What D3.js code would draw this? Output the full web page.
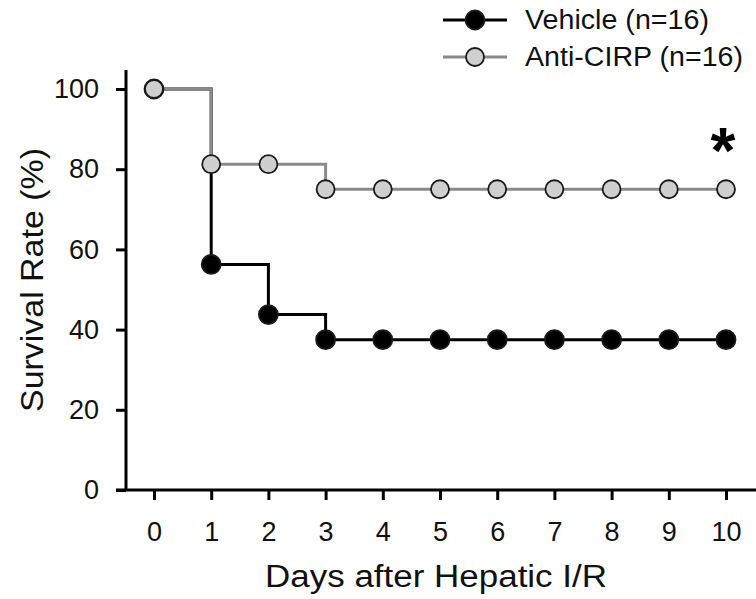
<!DOCTYPE html>
<html>
<head>
<meta charset="utf-8">
<script src="https://cdn.jsdelivr.net/npm/d3@7"></script>
<style>
  body { margin: 0; background: #fff; }
  text { font-family: "Liberation Sans", Arial, sans-serif; }
</style>
</head>
<body>
<svg id="chart" width="756" height="599"></svg>
<script>
// survival data (percent alive each day)
const days = [0, 1, 2, 3, 4, 5, 6, 7, 8, 9, 10];
const vehicle = [100, 56.25, 43.75, 37.5, 37.5, 37.5, 37.5, 37.5, 37.5, 37.5, 37.5];
const antiCirp = [100, 81.25, 81.25, 75, 75, 75, 75, 75, 75, 75, 75];
const yTicks = [0, 20, 40, 60, 80, 100];
const seriesNames = ['Vehicle (n=16)', 'Anti-CIRP (n=16)'];

const svg = d3.select('#chart');

const x = d3.scaleLinear().domain([0, 10]).range([154, 726]);
const y = d3.scaleLinear().domain([0, 100]).range([490, 89]);

const series = [
  { name: seriesNames[0], values: vehicle, line: '#000', fill: '#000', r: 9.5, w: 184 },
  { name: seriesNames[1], values: antiCirp, line: '#8a8a8a', fill: '#cfcfcf', r: 9, w: 218 }
];

// axes
const yAxis = d3.axisLeft(y).tickValues(yTicks).tickSize(10).tickPadding(17);
const xAxis = d3.axisBottom(x).tickValues(days).tickSize(10).tickPadding(22);

const gy = svg.append('g').attr('transform', 'translate(126,0)').call(yAxis);
gy.select('.domain').attr('d', `M0,${y(0)}V70`);
const gx = svg.append('g').attr('transform', 'translate(0,490)').call(xAxis);
gx.select('.domain').attr('d', 'M116,0H756');

svg.selectAll('.domain, .tick line').attr('stroke', '#000').attr('stroke-width', 3);
svg.selectAll('.tick text').attr('font-size', 27).attr('fill', '#111');

// axis titles
svg.append('text')
  .attr('x', 436).attr('y', 587)
  .attr('text-anchor', 'middle')
  .attr('font-size', 31)
  .attr('textLength', 342).attr('lengthAdjust', 'spacingAndGlyphs')
  .attr('fill', '#111')
  .text('Days after Hepatic I/R');

svg.append('text')
  .attr('transform', 'translate(43,280) rotate(-90)')
  .attr('text-anchor', 'middle')
  .attr('font-size', 31)
  .attr('textLength', 264).attr('lengthAdjust', 'spacingAndGlyphs')
  .attr('fill', '#111')
  .text('Survival Rate (%)');

// step lines + markers (grey drawn last, on top)
const step = d3.line()
  .x((d, i) => x(days[i]))
  .y(d => y(d))
  .curve(d3.curveStepAfter);

series.forEach(s => {
  svg.append('path')
    .datum(s.values)
    .attr('d', step)
    .attr('fill', 'none')
    .attr('stroke', s.line)
    .attr('stroke-width', 3);
});

series.forEach(s => {
  svg.append('g').selectAll('circle')
    .data(s.values)
    .join('circle')
    .attr('cx', (d, i) => x(days[i]))
    .attr('cy', d => y(d))
    .attr('r', s.r)
    .attr('fill', s.fill)
    .attr('stroke', '#1a1a1a')
    .attr('stroke-width', 1.8);
});

// significance mark
svg.append('text')
  .attr('x', x(10) - 3).attr('y', 173)
  .attr('text-anchor', 'middle')
  .attr('font-size', 64)
  .attr('font-weight', 'bold')
  .text('*');

// legend
const legend = svg.append('g');
series.forEach((s, i) => {
  const ly = 20 + i * 37;
  legend.append('line')
    .attr('x1', 443).attr('x2', 507)
    .attr('y1', ly).attr('y2', ly)
    .attr('stroke', s.line).attr('stroke-width', 3);
  legend.append('circle')
    .attr('cx', 475).attr('cy', ly).attr('r', s.r)
    .attr('fill', s.fill).attr('stroke', '#1a1a1a').attr('stroke-width', 1.8);
  legend.append('text')
    .attr('x', 525).attr('y', ly).attr('dy', '0.35em')
    .attr('font-size', 27)
    .attr('textLength', s.w).attr('lengthAdjust', 'spacingAndGlyphs')
    .attr('fill', '#111')
    .text(s.name);
});
</script>
</body>
</html>
